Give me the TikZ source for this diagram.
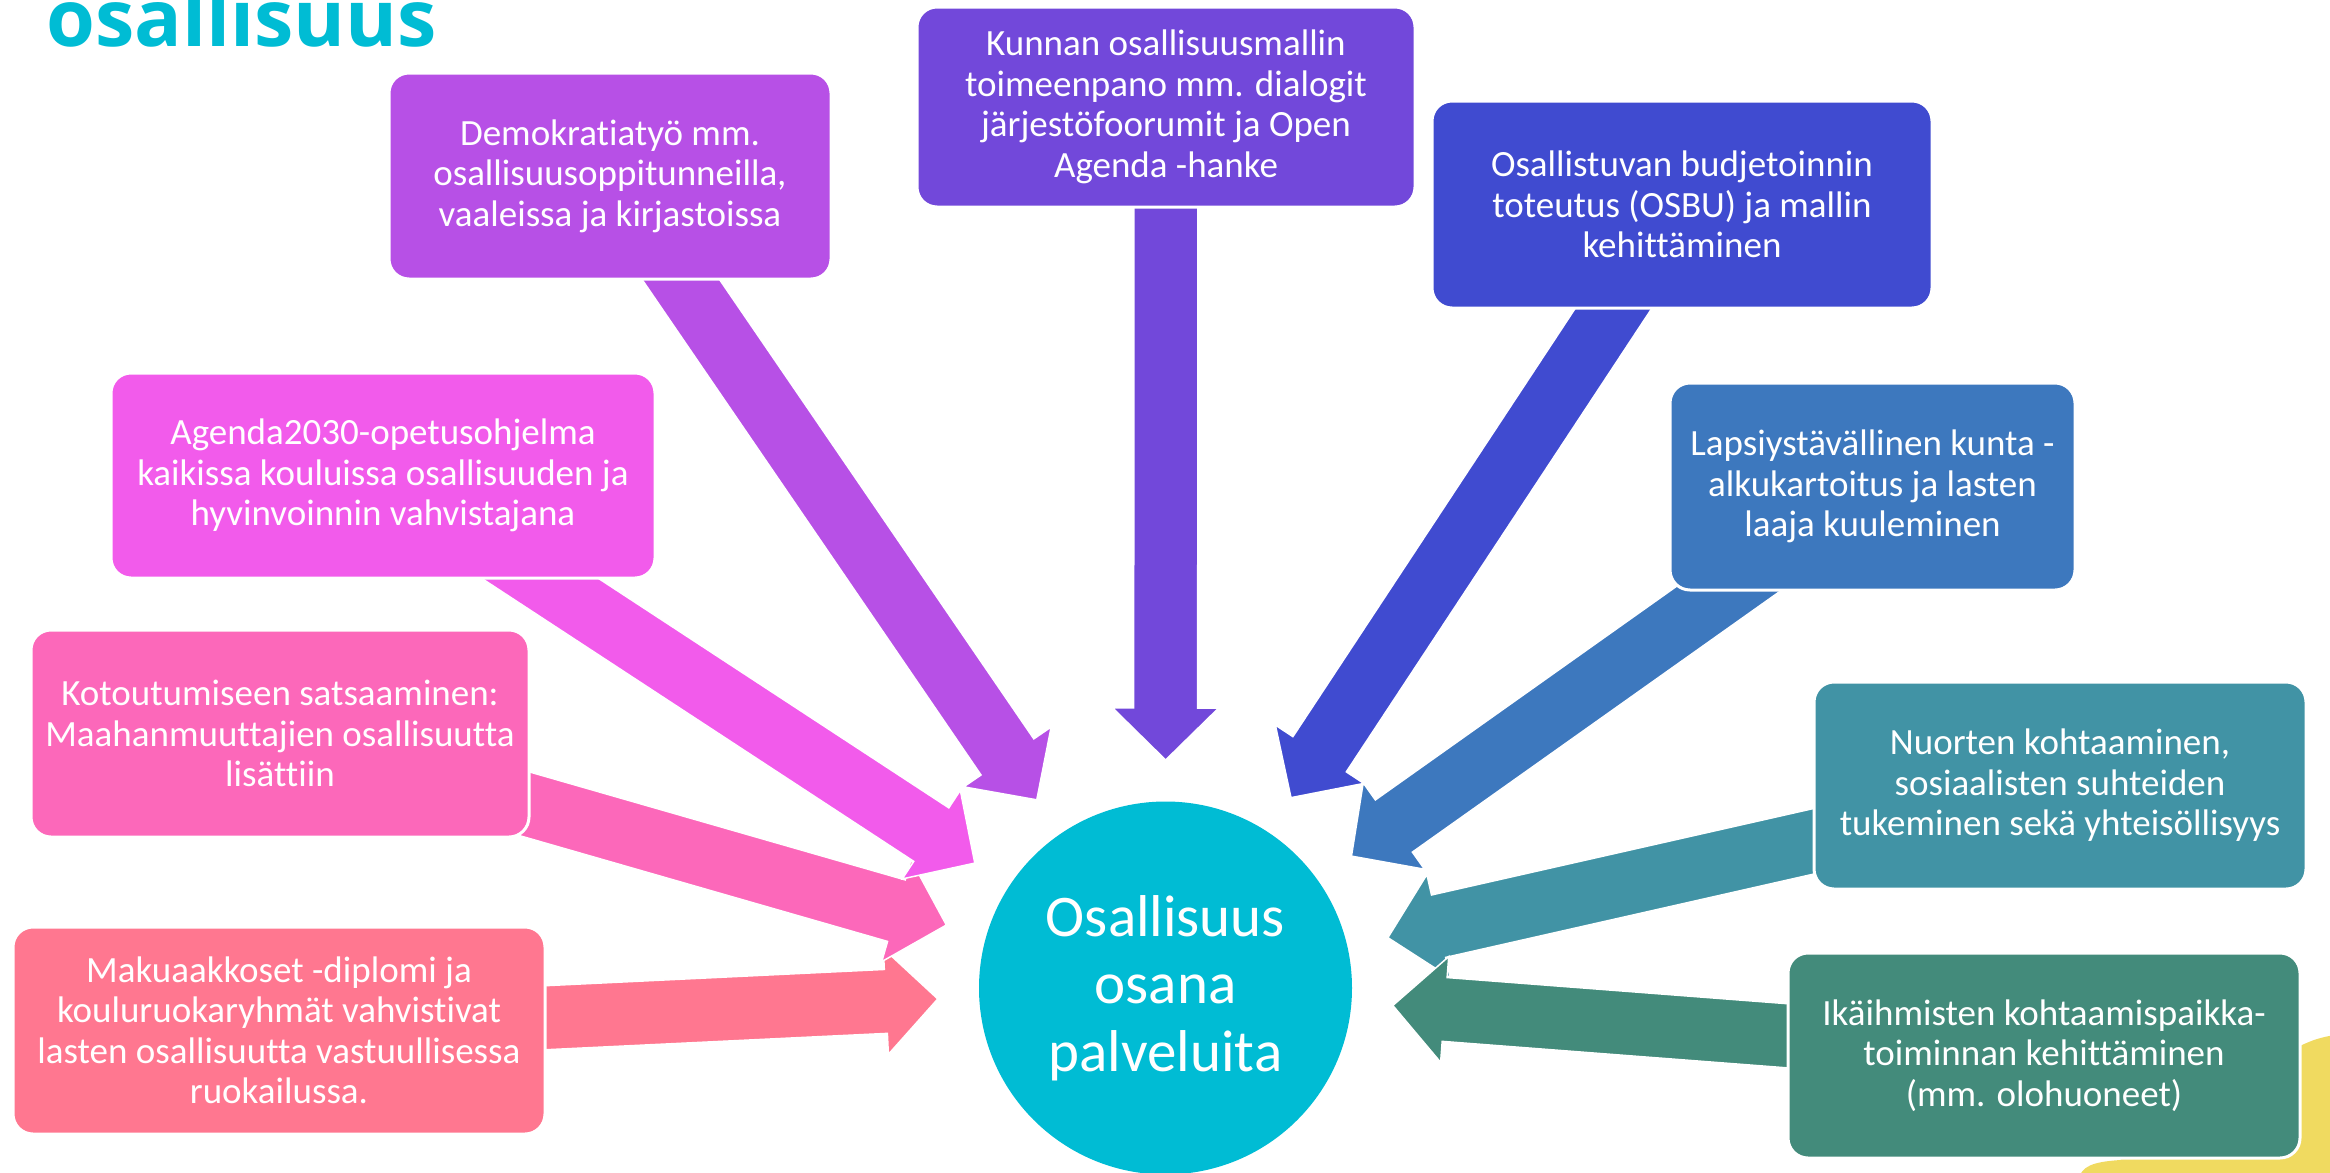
\documentclass[tikz,border=0pt]{standalone}
\usepackage{fontspec}
\setmainfont{Carlito}[Ligatures=NoCommon]
\newfontfamily\titlefont{Open Sans}
\usetikzlibrary{calc,backgrounds}
\definecolor{democ}{HTML}{B750E6}
\definecolor{kuntac}{HTML}{7248DA}
\definecolor{osbuc}{HTML}{404BD0}
\definecolor{agendac}{HTML}{F25BEB}
\definecolor{lapsic}{HTML}{3D78BE}
\definecolor{kotoc}{HTML}{FC68BA}
\definecolor{nuoretc}{HTML}{4193A5}
\definecolor{makuc}{HTML}{FF7790}
\definecolor{ikac}{HTML}{438B7B}
\definecolor{hubcol}{HTML}{00BCD4}
\definecolor{yellowc}{HTML}{F0DA60}

\begin{document}
\begin{tikzpicture}[x=1pt,y=-1pt,
box/.style={rectangle, rounded corners=20pt, draw=white, line width=3pt, text=white, align=center, inner sep=0pt, font=\fontsize{37}{40.5}\selectfont},
arr/.style={draw=white, line width=1.5pt},
hubnode/.style={circle, fill=hubcol, text=white, align=center, minimum size=373pt, inner sep=0pt, font=\fontsize{59}{67.5}\selectfont}
]
\def\blockarrow(#1:#2:#3){
\coordinate (head base) at ($(#3)!52pt!(#2.center)$);
\filldraw[arr, fill=#1]
($(#2.center)!32pt!90:(#3)$) -- ($(head base)!32pt!90:(#3)$) -- ($(head base)!53pt!90:(#3)$) -- (#3) --
($(head base)!53pt!-90:(#3)$) -- ($(head base)!32pt!-90:(#3)$) -- ($(#2.center)!32pt!-90:(#3)$) -- cycle;
}
\useasboundingbox (0,0) rectangle (2330,1173);
% Title, cut by the page top
\node[anchor=base west, inner sep=0pt, text=hubcol, font=\titlefont\bfseries\fontsize{79}{90}\selectfont] (title) at (46,46) {osallisuus};
% The boxes
\node[box, fill=democ, minimum width=442pt, minimum height=206pt] (demo) at (610,176) {Demokratiatyö mm.\\ osallisuusoppitunneilla,\\ vaaleissa ja kirjastoissa};
\node[box, fill=kuntac, minimum width=498pt, minimum height=200pt] (kunta) at (1166,107) {Kunnan osallisuusmallin\\ toimeenpano mm. dialogit\\ järjestöfoorumit ja Open\\ Agenda -hanke};
\node[box, fill=osbuc, minimum width=500pt, minimum height=207pt] (osbu) at (1682,204.5) {Osallistuvan budjetoinnin\\ toteutus (OSBU) ja mallin\\ kehittäminen};
\node[box, fill=agendac, minimum width=544pt, minimum height=205pt] (agenda) at (383,475.5) {Agenda2030-opetusohjelma\\ kaikissa kouluissa osallisuuden ja\\ hyvinvoinnin vahvistajana};
\node[box, fill=lapsic, minimum width=405pt, minimum height=207pt] (lapsi) at (1872.5,486.5) {Lapsiystävällinen kunta -\\ alkukartoitus ja lasten\\ laaja kuuleminen};
\node[box, fill=kotoc, minimum width=498pt, minimum height=207pt] (koto) at (280,733.5) {Kotoutumiseen satsaaminen:\\ Maahanmuuttajien osallisuutta\\ lisättiin};
\node[box, fill=nuoretc, minimum width=492pt, minimum height=207pt] (nuoret) at (2060,785.5) {Nuorten kohtaaminen,\\ sosiaalisten suhteiden\\ tukeminen sekä yhteisöllisyys};
\node[box, fill=makuc, minimum width=532pt, minimum height=207pt] (maku) at (279,1030.5) {Makuaakkoset -diplomi ja\\ kouluruokaryhmät vahvistivat\\ lasten osallisuutta vastuullisessa\\ ruokailussa.};
\node[box, fill=ikac, minimum width=512pt, minimum height=205pt] (ika) at (2044,1055.5) {Ikäihmisten kohtaamispaikka-\\ toiminnan kehittäminen\\ (mm. olohuoneet)};
% The centre
\node[hubnode] (hub) at (1165.5,988) {Osallisuus\\ osana\\ palveluita};
\begin{pgfonlayer}{background}
% Yellow corner shape behind the last box
\fill[yellowc] (2078,1180) .. controls (2082,1166) and (2092,1162) .. (2120,1160) -- (2300,1046) .. controls (2312,1040) and (2322,1037) .. (2335,1035) -- (2335,1180) -- cycle;
% Arrows from the boxes to the centre
\foreach \b/\c in {maku/makuc,koto/kotoc,agenda/agendac,demo/democ,kunta/kuntac,osbu/osbuc,lapsi/lapsic,nuoret/nuoretc,ika/ikac}{
\coordinate (\b tip) at ($(hub.center)!228pt!(\b.center)$);
\blockarrow(\c:\b:\b tip);
}
\end{pgfonlayer}
\end{tikzpicture}
\end{document}
